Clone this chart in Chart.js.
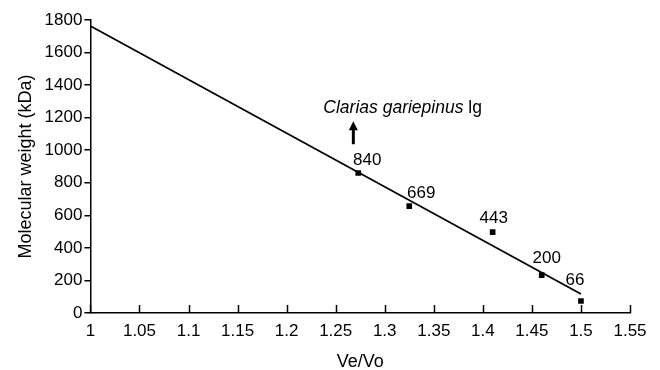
<!DOCTYPE html>
<html><head><meta charset="utf-8">
<script src="https://cdn.jsdelivr.net/npm/chart.js@4.4.0/dist/chart.umd.min.js"></script>
<style>html,body{margin:0;padding:0;background:#fff}#wrap{width:660px;height:370px}</style>
</head><body><div id="wrap"><canvas id="c" width="660" height="370"></canvas></div>
<script>
const markerX = [1.273, 1.325, 1.41, 1.46, 1.5];
const markerY = [860, 657, 497, 233, 74];
const markerLabels = ["840", "669", "443", "200", "66"];
const fitX = [1, 1.5];
const fitY = [1763, 117];
const xTicks = [1, 1.05, 1.1, 1.15, 1.2, 1.25, 1.3, 1.35, 1.4, 1.45, 1.5, 1.55];
const yTicks = [0, 200, 400, 600, 800, 1000, 1200, 1400, 1600, 1800];
const annotX = 1.268;
const annotY = 1000;
const annotText = ["Clarias gariepinus", "lg"];

const FONT = "'Liberation Sans', Arial, sans-serif";
const labelOffsets = [[9,-13],[12,-13],[1,-14],[5,-17],[-6,-21]];

const overlay = {
  id: 'overlay',
  afterDraw(chart) {
    const ctx = chart.ctx, xs = chart.scales.x, ys = chart.scales.y;
    ctx.save();
    ctx.strokeStyle = '#000'; ctx.lineWidth = 1.5;
    const yb = ys.getPixelForValue(0);
    xTicks.forEach(v => {
      const px = Math.round(xs.getPixelForValue(v)) + 0.5;
      ctx.beginPath(); ctx.moveTo(px, yb); ctx.lineTo(px, yb - 8); ctx.stroke();
    });
    ctx.fillStyle = '#000';
    ctx.font = '17px ' + FONT;
    ctx.textAlign = 'center'; ctx.textBaseline = 'middle';
    markerLabels.forEach((t, i) => {
      const px = xs.getPixelForValue(markerX[i]) + labelOffsets[i][0];
      const py = ys.getPixelForValue(markerY[i]) + labelOffsets[i][1];
      ctx.fillText(t, px, py);
    });
    const ax = xs.getPixelForValue(annotX);
    const ay = ys.getPixelForValue(annotY);
    ctx.lineWidth = 3;
    ctx.beginPath(); ctx.moveTo(ax, ay - 6); ctx.lineTo(ax, ay - 21); ctx.stroke();
    ctx.beginPath(); ctx.moveTo(ax - 4.5, ay - 20); ctx.lineTo(ax, ay - 29); ctx.lineTo(ax + 4.5, ay - 20); ctx.closePath(); ctx.fill();
    ctx.textAlign = 'left'; ctx.textBaseline = 'alphabetic';
    ctx.font = 'italic 17.5px ' + FONT;
    const tx = ax - 30, ty = ay - 37;
    ctx.fillText(annotText[0], tx, ty);
    const w = ctx.measureText(annotText[0] + ' ').width;
    ctx.font = '17.5px ' + FONT;
    ctx.fillText(annotText[1], tx + w, ty);
    ctx.restore();
  }
};

new Chart(document.getElementById('c'), {
  type: 'scatter',
  data: {
    datasets: [
      {
        type: 'line',
        data: fitX.map((x, i) => ({x, y: fitY[i]})),
        borderColor: '#000', borderWidth: 1.8, pointRadius: 0, fill: false
      },
      {
        data: markerX.map((x, i) => ({x, y: markerY[i]})),
        pointStyle: 'rect', pointRadius: 4, backgroundColor: '#000', borderColor: '#000', borderWidth: 0
      }
    ]
  },
  options: {
    responsive: false, animation: false,
    layout: { padding: { top: 20, right: 30, bottom: 0, left: 15 } },
    plugins: { legend: { display: false }, tooltip: { enabled: false } },
    scales: {
      x: {
        type: 'linear', min: 1, max: 1.55,
        afterBuildTicks: s => { s.ticks = xTicks.map(v => ({value: v})); },
        afterFit: s => { s.height = 57; },
        ticks: { color: '#000', font: { family: FONT, size: 17 }, padding: 8, maxRotation: 0,
                 callback: v => String(+v.toFixed(2)) },
        grid: { display: false, drawTicks: false },
        border: { display: true, color: '#000', width: 1.5 },
        title: { display: true, text: 'Ve/Vo', color: '#000', font: { family: FONT, size: 18 }, padding: { top: 8, bottom: -3 } }
      },
      y: {
        min: 0, max: 1800,
        afterBuildTicks: s => { s.ticks = yTicks.map(v => ({value: v})); },
        ticks: { color: '#000', font: { family: FONT, size: 17 }, padding: 2, callback: v => String(v) },
        grid: { drawOnChartArea: false, drawTicks: true, tickLength: 6, color: '#000', lineWidth: 1.5 },
        border: { display: true, color: '#000', width: 1.5 },
        title: { display: true, text: 'Molecular weight (kDa)', color: '#000', font: { family: FONT, size: 18 }, padding: { top: 0, bottom: 6 } }
      }
    }
  },
  plugins: [overlay]
});
</script></body></html>
